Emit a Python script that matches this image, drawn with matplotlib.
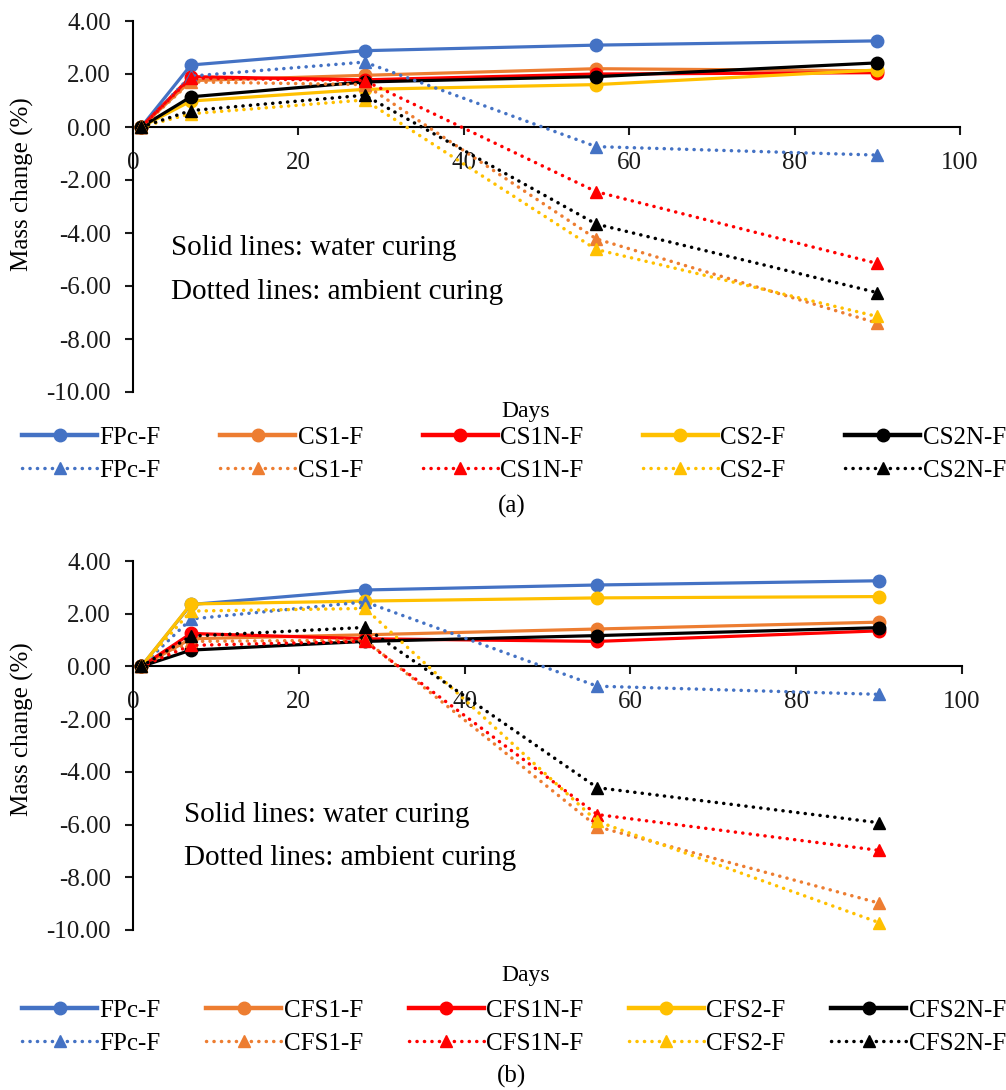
import matplotlib.pyplot as plt
from matplotlib.lines import Line2D

plt.rcParams['font.family'] = 'Liberation Serif'
plt.rcParams['axes.unicode_minus'] = False

# Curing ages (days)
days = [1, 7, 28, 56, 90]

colors = ['#4472C4', '#ED7D31', '#FF0000', '#FFC000', '#000000']

# Panel (a): mass change (%)
labels_a = ['FPc-F', 'CS1-F', 'CS1N-F', 'CS2-F', 'CS2N-F']
water_a = [
    [0, 2.34, 2.88, 3.09, 3.25],
    [0, 1.75, 1.95, 2.20, 2.12],
    [0, 1.90, 1.78, 2.00, 2.05],
    [0, 0.98, 1.42, 1.60, 2.15],
    [0, 1.14, 1.70, 1.90, 2.42],
]
ambient_a = [
    [0, 1.92, 2.45, -0.74, -1.06],
    [0, 1.70, 1.60, -4.22, -7.40],
    [0, 1.85, 1.75, -2.44, -5.15],
    [0, 0.50, 1.02, -4.62, -7.15],
    [0, 0.62, 1.20, -3.66, -6.25],
]

# Panel (b): mass change (%)
labels_b = ['FPc-F', 'CFS1-F', 'CFS1N-F', 'CFS2-F', 'CFS2N-F']
water_b = [
    [0, 2.35, 2.90, 3.09, 3.25],
    [0, 1.05, 1.20, 1.42, 1.68],
    [0, 1.25, 1.05, 0.95, 1.35],
    [0, 2.37, 2.48, 2.60, 2.65],
    [0, 0.62, 0.95, 1.17, 1.47],
]
ambient_b = [
    [0, 1.80, 2.45, -0.75, -1.06],
    [0, 0.95, 1.00, -6.08, -8.98],
    [0, 0.80, 0.95, -5.62, -6.98],
    [0, 2.10, 2.20, -5.88, -9.72],
    [0, 1.15, 1.48, -4.60, -5.93],
]

W, H = 1006, 1090
fig = plt.figure(figsize=(W / 100, H / 100), dpi=100)

dot_style = (0, (0.05, 2.1))
dot_kw = dict(lw=2.5, ls=dot_style, marker='^', ms=9, dash_capstyle='round')
solid_kw = dict(lw=2.3, marker='o', ms=9)


def draw_panel(rect, water, ambient, labels, note_xy, panel_y, tag):
    ax = fig.add_axes(rect)
    handles = []
    for c, ys in zip(colors, water):
        ax.plot(days, ys, color=c, zorder=3, **solid_kw)
    for c, ys in zip(colors, ambient):
        ax.plot(days, ys, color=c, zorder=3, **dot_kw)
    for c, lab in zip(colors, labels):
        handles.append(Line2D([], [], color=c, label=lab,
                              lw=3.2, marker='o', ms=9))
        handles.append(Line2D([], [], color=c, label=lab, **dot_kw))

    ax.set_xlim(0, 100)
    ax.set_ylim(-10, 4)
    ax.set_xticks(range(0, 101, 20))
    ax.set_yticks(range(-10, 5, 2))
    ax.yaxis.set_major_formatter(plt.FormatStrFormatter('%.2f'))
    ax.spines['bottom'].set_position(('data', 0))
    ax.spines['left'].set_position(('data', 0))
    ax.spines['right'].set_visible(False)
    ax.spines['top'].set_visible(False)
    for s in ('bottom', 'left'):
        ax.spines[s].set_linewidth(1.5)
    ax.tick_params(axis='both', direction='out', length=6, width=1.5,
                   labelsize=18, colors='#1a1a1a')
    ax.tick_params(axis='x', pad=12)
    ax.tick_params(axis='y', pad=10)

    ax.text(note_xy[0], note_xy[1], 'Solid lines: water curing',
            fontsize=21, va='center')
    ax.text(note_xy[0], note_xy[1] - 1.64, 'Dotted lines: ambient curing',
            fontsize=21, va='center')

    fig.text(22 / W, 1 - panel_y[0] / H, 'Mass change (%)', rotation=90,
             ha='center', va='center', fontsize=18)
    fig.text(526 / W, 1 - panel_y[1] / H, 'Days', ha='center', va='center',
             fontsize=17)
    fig.legend(handles=handles, ncol=5, loc='center', mode='expand',
               bbox_to_anchor=(22 / W, 1 - (panel_y[2] + 36) / H, 984 / W, 72 / H),
               frameon=False, fontsize=18, handlelength=3.0, handletextpad=0.1,
               labelspacing=0.42, borderpad=0, borderaxespad=0)
    fig.text(512 / W, 1 - panel_y[3] / H, tag, ha='center', va='center',
             fontsize=18)
    return ax


draw_panel([133 / W, 1 - 392 / H, 827 / W, 371 / H], water_a, ambient_a,
           labels_a, (4.6, -4.57), (184, 412, 454, 506), '(a)')
draw_panel([133 / W, 1 - 930 / H, 829 / W, 369 / H], water_b, ambient_b,
           labels_b, (6.2, -5.62), (729, 975, 1027, 1076), '(b)')

fig.savefig('out.png', dpi=100)
